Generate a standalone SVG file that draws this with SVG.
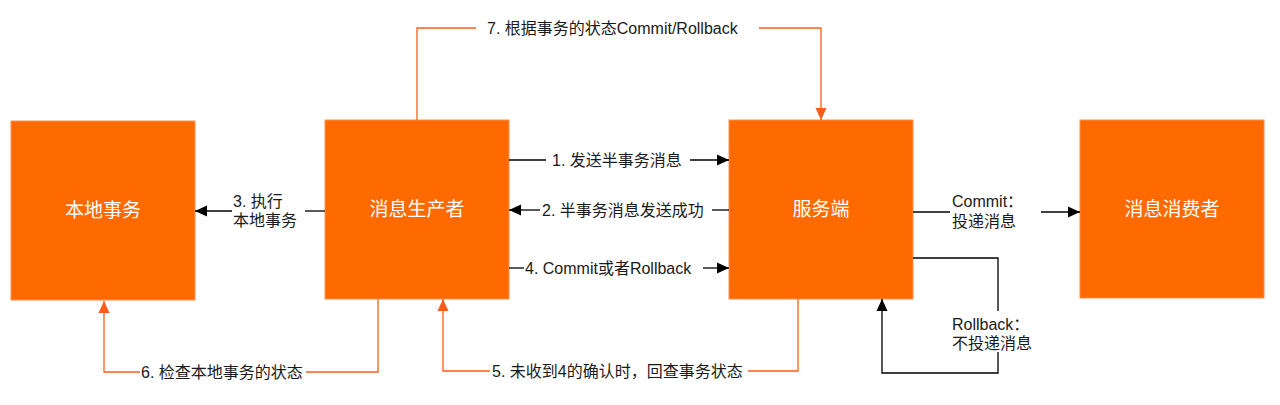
<svg xmlns="http://www.w3.org/2000/svg" width="1280" height="405" viewBox="0 0 1280 405">
<style>
.box{fill:#FF6A00;stroke:#FF8F4D;stroke-width:1}
.bt{font-family:"Liberation Sans","Noto Sans CJK SC",sans-serif;font-size:19px;fill:#ffffff;text-anchor:middle}
.lb{font-family:"Liberation Sans","Noto Sans CJK SC",sans-serif;font-size:16px;fill:#1a1a1a}
.k{fill:none;stroke:#000000;stroke-width:1.3}
.o{fill:none;stroke:#FF5C1A;stroke-width:1.3}
</style>
<defs>
<marker id="ak" markerUnits="userSpaceOnUse" markerWidth="13" markerHeight="12" refX="12" refY="6" orient="auto" viewBox="0 0 13 12"><path d="M0,0.5 L12,6 L0,11.5 z" fill="#000000"/></marker>
<marker id="ao" markerUnits="userSpaceOnUse" markerWidth="13" markerHeight="12" refX="12" refY="6" orient="auto" viewBox="0 0 13 12"><path d="M0,0.5 L12,6 L0,11.5 z" fill="#FF5C1A"/></marker>
</defs>
<g id="local-tx"><rect class="box" x="11" y="121" width="184" height="179"/><text class="bt" x="103" y="217">本地事务</text></g>
<g id="producer"><rect class="box" x="325" y="120" width="184" height="179"/><text class="bt" x="417" y="216">消息生产者</text></g>
<g id="server"><rect class="box" x="729" y="120" width="184" height="179"/><text class="bt" x="821" y="216">服务端</text></g>
<g id="consumer"><rect class="box" x="1080" y="120" width="184" height="178"/><text class="bt" x="1172" y="216">消息消费者</text></g>
<g id="connectors">
<path class="k" d="M509,160 H546"/><path class="k" d="M690,160 H729" marker-end="url(#ak)"/>
<text class="lb" x="552" y="166">1. 发送半事务消息</text>
<path class="k" d="M729,210 H712"/><path class="k" d="M540,210 H509" marker-end="url(#ak)"/>
<text class="lb" x="542" y="216">2. 半事务消息发送成功</text>
<path class="k" d="M509,268 H524"/><path class="k" d="M703,268 H729" marker-end="url(#ak)"/>
<text class="lb" x="525" y="274">4. Commit或者Rollback</text>
<path class="k" d="M325,211 H305"/><path class="k" d="M232,211 H195" marker-end="url(#ak)"/>
<text class="lb" x="233" y="207">3. 执行</text><text class="lb" x="233" y="226">本地事务</text>
<path class="k" d="M913,212 H950"/><path class="k" d="M1041,212 H1080" marker-end="url(#ak)"/>
<text class="lb" x="952" y="207">Commit：</text><text class="lb" x="952" y="227">投递消息</text>
<path class="k" d="M913,258 H998 V311"/><path class="k" d="M998,352 V373 H882 V299" marker-end="url(#ak)"/>
<text class="lb" x="952" y="330">Rollback：</text><text class="lb" x="952" y="349">不投递消息</text>
<path class="o" d="M417,120 V28 H476"/><path class="o" d="M759,28 H821 V120" marker-end="url(#ao)"/>
<text class="lb" x="487" y="34">7. 根据事务的状态Commit/Rollback</text>
<path class="o" d="M378,299 V372 H306"/><path class="o" d="M140,372 H104 V301" marker-end="url(#ao)"/>
<text class="lb" x="141" y="378">6. 检查本地事务的状态</text>
<path class="o" d="M798,299 V371 H748"/><path class="o" d="M490,371 H443 V299" marker-end="url(#ao)"/>
<text class="lb" x="492" y="377">5. 未收到4的确认时，回查事务状态</text>
</g>
</svg>
